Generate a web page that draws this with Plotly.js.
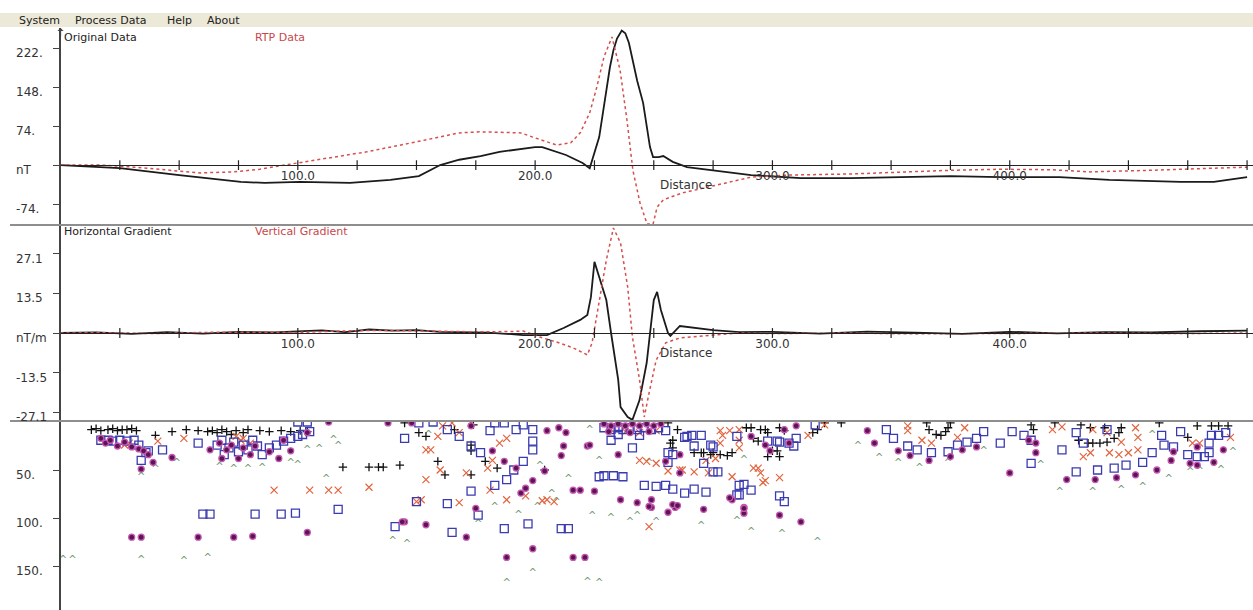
<!DOCTYPE html>
<html>
<head>
<meta charset="utf-8">
<script src="https://cdn.plot.ly/plotly-3.0.1.min.js"></script>
<style>
  html, body { margin: 0; padding: 0; background: #ffffff; overflow: hidden; }
  #chart { width: 1253px; height: 610px; }
</style>
</head>
<body>
<div id="chart"></div>
<script>
// ---------- profile curves (distance along line, m) ----------
const origDist = [0, 25, 50, 76, 86, 101, 122, 139, 151, 156, 160, 168, 177, 185, 194, 200, 203, 213, 220, 223,
  227, 228.5, 230, 231.5, 233, 234.5, 236.5, 238, 239.5, 241, 243, 245.5, 247, 248.4, 249.7, 252, 254, 256, 258,
  264, 275, 291, 312, 333, 354, 375, 396, 421, 442, 459, 472, 486, 494, 500];
const origVal = [0, -6, -19, -32, -34, -32, -34, -28, -21, -10, 0, 10, 17, 25, 30, 34, 34, 19, 4, -6,
  53, 100, 148, 185, 218, 240, 255, 250, 232, 200, 160, 118, 75, 34, 15, 15, 17, 11, 6,
  -4, -10, -19, -25, -25, -23, -21, -23, -23, -28, -30, -32, -32, -27, -23];

const rtpDist = [0, 17, 31, 46, 59, 73, 84, 100, 115, 129, 150, 160, 168, 177, 194, 199, 209, 215, 219, 223,
  226, 229, 232.4, 235.8, 238.7, 241.2, 244.2, 247.2, 249.7, 251.4, 254, 262, 277, 291, 307, 333, 375, 396,
  418, 434, 459, 500];
const rtpVal = [0, 0, -4, -10, -15, -13, -8, 4, 15, 25, 44, 53, 61, 63, 61, 53, 38, 42, 61, 99,
  148, 205, 243, 180, 85, -10, -72, -112, -112, -80, -66, -53, -38, -23, -19, -17, -10, -8,
  -9, -13, -10, -4];

const hgDist = [0, 15, 30, 45, 60, 75, 90, 100, 110, 120, 130, 140, 150, 160, 170, 180, 190, 195, 205, 212,
  219, 222, 223.5, 225, 227, 230, 232, 235, 236, 239, 241, 244, 247, 248.5, 250, 251.4, 253, 256, 257, 261,
  267, 275, 286, 300, 320, 340, 360, 380, 400, 420, 440, 460, 480, 500];
const hgVal = [0, 0.2, -0.3, 0.3, -0.2, 0.4, 0.2, 0.6, 0.9, 0.3, 1.2, 0.8, 1.0, 0.4, 0.3, 0.1, -0.4, -0.7, -0.7, 1.7,
  4.5, 6.2, 12.3, 24.4, 19.2, 11.3, 0, -16, -25.4, -28.8, -29.8, -23, -10.3, 1, 11.3, 14.1, 7.9, 0, -1, 2.4,
  1.7, 1, 0.3, 0.4, -0.2, 0.5, 0.1, -0.3, 0.4, -0.1, 0.3, 0.2, 0.6, 0.8];

const vgDist = [0, 20, 40, 60, 80, 100, 115, 130, 145, 160, 175, 190, 195, 202, 209, 216, 222, 224, 227, 230,
  233, 236, 239, 241, 244, 246, 248, 251, 255, 261, 275, 286, 300, 330, 360, 400, 440, 470, 500];
const vgVal = [0, 0.1, -0.2, 0.2, 0.3, 0.2, 0.6, 0.9, 0.8, 0.6, 0.4, 0.5, 0.7, -1.4, -3.1, -5.1, -7.5, -3.4, 10.3, 25,
  36, 30.9, 15.8, -1.4, -16, -28.8, -20.6, -9.3, -3.4, -1.7, -0.7, 0, -0.2, 0, -0.3, -0.2, 0, -0.2, 0];

// ---------- Euler solutions (distance m, depth m) ----------
const plusX = [13, 15, 17, 20, 22, 24, 26, 28, 30, 32, 40, 47, 53, 58, 62, 64, 66, 68, 70, 72, 74, 77, 79,
  84, 88, 93, 97, 101, 104, 119, 130, 134, 136, 143, 145, 151, 154, 159, 162, 173, 173, 173, 179, 184, 204, 166, 174,
  256, 260, 258, 257, 271, 274, 278, 281, 291, 295, 298, 303, 305, 292, 294, 300, 302, 317, 319, 322, 329,
  283, 275, 303, 298, 258, 267, 270, 289, 297,
  365, 366, 369, 371, 373, 374, 375, 409, 410, 419, 430, 429, 433, 435, 438, 441, 444, 446, 447, 440, 434,
  463, 479, 485, 488, 492, 475];
const plusD = [8, 7, 9, 8, 7, 9, 8, 8, 7, 9, 14, 10, 8, 9, 10, 9, 11, 8, 10, 13, 9, 11, 8,
  9, 10, 9, 10, 9, 10, 47, 47, 47, 47, 45, 1, 11, 15, 41, 55, 30, 24, 55, 41, 48, 50, 8, 3,
  1, 8, 27, 22, 32, 34, 34, 35, 6, 8, 11, 6, 9, 17, 20, 30, 30, 11, 8, 1, 1,
  32, 32, 36, 36, 19, 32, 32, 6, 8,
  1, 8, 13, 14, 10, 6, 1, 3, 8, 1, 3, 19, 22, 22, 22, 21, 17, 11, 6, 6, 6,
  1, 4, 4, 4, 4, 16];

const crossX = [41, 52, 77, 80, 76, 74, 27, 29, 90, 105, 113, 117, 130, 154, 156, 160, 171, 168, 180, 182, 185, 188,
  152, 168, 159, 161, 165, 173, 203, 244, 247, 154, 150, 181, 188, 196, 205, 208,
  261, 267, 273, 283, 303, 295, 296, 292, 279, 278, 286, 315, 248, 278, 282, 286, 286, 294, 297, 276, 272, 262, 256, 251,
  232, 238, 244, 251,
  322, 357, 357, 363, 367, 378, 381, 418, 422, 435, 441, 447, 454, 453, 431, 434, 442, 446, 450, 454, 477, 480, 493];
const crossD = [20, 17, 17, 22, 19, 15, 24, 22, 71, 71, 71, 71, 68, 60, 29, 50, 53, 11, 48, 40, 22, 17,
  81, 84, 15, 4, 1, 1, 82, 40, 41, 29, 83, 71, 81, 77, 81, 83,
  50, 52, 53, 57, 58, 53, 63, 48, 14, 22, 8, 14, 109, 9, 9, 19, 27, 48, 61, 38, 40, 50, 51, 43,
  8, 10, 11, 9,
  3, 4, 9, 19, 22, 16, 6, 8, 5, 8, 11, 21, 16, 6, 36, 32, 32, 34, 32, 29, 22, 22, 16];

const sqX = [17, 20, 22, 25, 28, 31, 33, 37, 43, 34, 36, 58,
  66, 68, 71, 73, 75, 77, 79, 69, 81, 83,
  85, 88, 91, 94, 97, 100, 102, 105, 100, 104,
  60, 63, 82, 93, 99, 117, 141, 150, 145,
  151, 157, 163, 168, 173, 177, 181, 183, 187, 192, 199, 199, 199, 195, 191, 188, 183, 173, 163, 176, 195,
  232, 241, 229, 233, 237, 246, 251, 165, 187, 197, 211, 214, 227,
  255, 258, 263, 267, 272, 285, 291, 288, 303, 305, 271, 275, 318, 310, 307, 303, 275, 270, 266, 263, 267, 256, 256,
  286, 286, 264, 274, 277, 285, 298, 302, 309, 348, 351, 357, 361, 367, 258,
  374, 378, 382, 386, 389, 396, 401, 406, 409, 409, 422, 428, 431, 441, 428, 437, 444, 449, 456, 460, 464, 465, 469,
  472, 475, 479, 482, 484, 485, 488, 491, 484,
  229, 232, 235, 237, 240, 243, 246, 249, 252, 255, 235, 244];
const sqD = [19, 19, 20, 19, 20, 19, 24, 30, 29, 40, 32, 22,
  24, 19, 27, 21, 31, 24, 29, 34, 19, 25,
  34, 27, 24, 20, 17, 15, 13, 10, 0, 0,
  96, 96, 96, 96, 95, 91, 109, 83, 17,
  1, 0, 8, 15, 25, 32, 9, 1, 1, 8, 8, 20, 29, 41, 50, 60, 66, 72, 85, 97, 3,
  19, 27, 56, 56, 57, 66, 67, 115, 111, 106, 111, 111, 57,
  66, 70, 74, 70, 73, 76, 71, 65, 77, 83, 43, 52, 3, 17, 22, 21, 26, 14, 14, 16, 25, 32, 42,
  66, 76, 15, 24, 52, 15, 20, 20, 25, 8, 17, 25, 29, 32, 34,
  31, 24, 21, 17, 10, 22, 10, 14, 19, 43, 29, 11, 22, 8, 52, 50, 48, 45, 42, 32, 14, 24, 26,
  10, 34, 36, 36, 32, 14, 14, 11, 22,
  6, 8, 6, 8, 6, 8, 6, 8, 6, 9, 13, 14];

const dotX = [17, 19, 21, 24, 27, 30, 33, 35, 37, 34, 39, 47, 63, 30, 34, 58, 73, 81, 104, 145, 113, 138,
  67, 70, 72, 75, 77, 80, 82, 68, 92, 97, 104, 88, 94,
  148, 173, 182, 187, 192, 199, 196, 194, 205, 210, 213, 211, 204, 212, 222, 216, 219, 225, 235, 236, 243, 249, 175,
  144, 154, 171, 188, 199, 216, 221, 249, 256, 259, 271, 288, 288, 303, 312, 283, 261, 223,
  248, 258, 260, 282, 288, 255, 261, 291, 297, 299, 307, 305, 310, 340, 343, 353, 358, 366,
  375, 380, 386, 400, 408, 411, 411, 424, 436, 445, 453, 462, 468, 469, 476, 479, 486, 490, 479,
  229, 232, 235, 238, 241, 244, 247, 250, 253, 231, 240, 248];
const dotD = [17, 22, 19, 25, 21, 26, 28, 30, 34, 49, 42, 37, 29, 120, 120, 120, 120, 119, 115, 104, 0, 1,
  22, 29, 24, 38, 27, 34, 25, 38, 38, 30, 11, 31, 19,
  1, 4, 30, 41, 48, 61, 69, 74, 9, 6, 11, 35, 51, 25, 25, 71, 71, 72, 34, 81, 84, 81, 90,
  104, 107, 120, 141, 132, 141, 141, 89, 94, 89, 91, 89, 95, 97, 104, 81, 53, 24,
  88, 86, 87, 79, 90, 41, 34, 15, 24, 30, 22, 8, 4, 9, 22, 30, 35, 40,
  36, 29, 26, 53, 19, 22, 32, 60, 60, 58, 55, 50, 40, 31, 43, 45, 42, 29, 26,
  2, 4, 2, 4, 2, 4, 2, 4, 2, 10, 11, 10];

const caretX = [1, 5, 34, 52, 62, 34, 40, 49, 67, 73, 79, 85, 97, 100, 104, 109, 115, 117, 112, 124, 140, 146,
  148, 155, 214, 227, 223, 207, 209, 202, 248,
  176, 193, 201, 224, 232, 240, 243, 251, 270, 285, 291, 304, 319, 188, 199, 222, 227, 183,
  336, 345, 353, 362, 288, 374, 389, 413, 421, 435, 447, 456, 467, 476, 480, 489, 494, 460];
const caretD = [144, 144, 144, 145, 142, 58, 49, 43, 47, 49, 49, 48, 43, 45, 30, 29, 19, 26, 60, 0, 124, 128,
  4, 14, 60, 41, 9, 76, 84, 46, 43,
  107, 97, 89, 98, 100, 105, 98, 105, 109, 104, 115, 117, 125, 168, 158, 167, 168, 89,
  25, 38, 43, 48, 40, 43, 31, 45, 73, 73, 71, 68, 60, 53, 52, 50, 32, 14];

// ---------- axis ticks and labels ----------
const distTicks = [25, 50, 75, 100, 125, 150, 175, 200, 225, 250, 275, 300, 325, 350, 375, 400, 425, 450, 475, 500];
const distLabelVals = [100, 200, 300, 400, 500];
const distLabelText = ['100.0', '200.0', '300.0', '400.0', '500.0'];
const fieldTickVals = [222, 148, 74, 0, -74];
const fieldTickText = ['222.', '148.', '74.', 'nT', '-74.'];
const gradTickVals = [27.1, 13.55, 0, -13.55, -27.1];
const gradTickText = ['27.1', '13.5', 'nT/m', '-13.5', '-27.1'];
const depthTickVals = [50, 100, 150];
const depthTickText = ['50.', '100.', '150.'];
const menuItems = ['System', 'Process Data', 'Help', 'About'];
const menuLeft = [17, 73, 165, 205];

// ---------- page geometry (pixels -> paper fractions) ----------
const W = 1253, H = 610;
const fx = p => p / W;
const fy = p => 1 - p / H;
const FONT = 'DejaVu Sans, Verdana, sans-serif';

const blackLine = { color: '#1b1b1b', width: 1.8 };
const redDash = { color: '#d4504c', width: 1.5, dash: '3px,3px' };
const tickMark = { symbol: 'line-ns-open', size: 7, color: '#222', line: { color: '#222', width: 1.2 } };

const traces = [
  { x: origDist, y: origVal, xaxis: 'x', yaxis: 'y', mode: 'lines', line: blackLine, hoverinfo: 'skip' },
  { x: rtpDist, y: rtpVal, xaxis: 'x', yaxis: 'y', mode: 'lines', line: redDash, hoverinfo: 'skip' },
  { x: hgDist, y: hgVal, xaxis: 'x2', yaxis: 'y2', mode: 'lines', line: blackLine, hoverinfo: 'skip' },
  { x: vgDist, y: vgVal, xaxis: 'x2', yaxis: 'y2', mode: 'lines', line: redDash, hoverinfo: 'skip' },
  // distance tick marks crossing the zero lines
  { x: distTicks, y: distTicks.map(() => 0), xaxis: 'x', yaxis: 'y', mode: 'markers', marker: tickMark, hoverinfo: 'skip' },
  { x: distTicks, y: distTicks.map(() => 0), xaxis: 'x2', yaxis: 'y2', mode: 'markers', marker: tickMark, hoverinfo: 'skip' },
  // Euler solutions
  { x: caretX, y: caretD, xaxis: 'x3', yaxis: 'y3', mode: 'text', text: caretX.map(() => '^'),
    textfont: { family: FONT, size: 10, color: '#6f9a6f' }, hoverinfo: 'skip' },
  { x: plusX, y: plusD, xaxis: 'x3', yaxis: 'y3', mode: 'markers',
    marker: { symbol: 'cross-thin-open', size: 6, color: '#111', line: { color: '#111', width: 1.3 } }, hoverinfo: 'skip' },
  { x: crossX, y: crossD, xaxis: 'x3', yaxis: 'y3', mode: 'markers',
    marker: { symbol: 'x-thin-open', size: 7, color: '#e2643f', line: { color: '#e2643f', width: 1.2 } }, hoverinfo: 'skip' },
  { x: sqX, y: sqD, xaxis: 'x3', yaxis: 'y3', mode: 'markers',
    marker: { symbol: 'square-open', size: 8, color: '#3b3bb0', line: { color: '#3b3bb0', width: 1.3 } }, hoverinfo: 'skip' },
  { x: dotX, y: dotD, xaxis: 'x3', yaxis: 'y3', mode: 'markers',
    marker: { symbol: 'circle', size: 6, color: '#5a1552', line: { color: '#c657b2', width: 1.3 } }, hoverinfo: 'skip' }
];

const xDomain = [fx(60.5), 1];
const xRange = [0, 502.5];
const baseX = { domain: xDomain, range: xRange, showgrid: false, zeroline: false, fixedrange: true };
const baseY = {
  anchor: 'x', showgrid: false, zeroline: false, showline: true, linecolor: '#444', linewidth: 1.5,
  ticks: 'outside', ticklen: 6, tickcolor: '#444', showticklabels: false, fixedrange: true
};
const distAxis = {
  anchor: 'free', showline: true, linecolor: '#222', linewidth: 1,
  ticks: '', tickvals: distLabelVals, ticktext: distLabelText,
  tickfont: { family: FONT, size: 12, color: '#333' }
};

const layout = {
  width: W, height: H,
  margin: { l: 0, r: 0, t: 0, b: 0 },
  paper_bgcolor: '#ffffff', plot_bgcolor: 'rgba(0,0,0,0)',
  showlegend: false,
  font: { family: FONT, size: 11, color: '#222' },
  xaxis: Object.assign({}, baseX, distAxis, { position: fy(165) }),
  xaxis2: Object.assign({}, baseX, distAxis, { position: fy(333) }),
  xaxis3: Object.assign({}, baseX, { anchor: 'y3', showline: false, showticklabels: false, ticks: '' }),
  yaxis: Object.assign({}, baseY, { domain: [fy(225), fy(28)], range: [-113.8, 260], tickvals: fieldTickVals }),
  yaxis2: Object.assign({}, baseY, { anchor: 'x2', domain: [fy(421), fy(225)], range: [-30.18, 37.04], tickvals: gradTickVals }),
  yaxis3: Object.assign({}, baseY, { anchor: 'x3', domain: [0, fy(421)], range: [195.8, -1.04], tickvals: depthTickVals }),
  shapes: [
    { type: 'rect', xref: 'paper', yref: 'paper', x0: 0, x1: 1, y0: fy(27), y1: fy(13),
      fillcolor: '#ece9d8', line: { width: 0 }, layer: 'below' },
    { type: 'line', xref: 'paper', yref: 'paper', x0: fx(10), x1: 1, y0: fy(225), y1: fy(225),
      line: { color: '#8e8e8e', width: 2 } },
    { type: 'line', xref: 'paper', yref: 'paper', x0: fx(10), x1: 1, y0: fy(421), y1: fy(421),
      line: { color: '#8e8e8e', width: 2 } }
  ],
  annotations: []
};

const ann = layout.annotations;
function label(text, x, y, color, size) {
  ann.push({ text: text, x: x, y: y, xref: 'paper', yref: 'paper', xanchor: 'left', yanchor: 'middle',
    showarrow: false, font: { family: FONT, size: size, color: color } });
}

menuItems.forEach((m, i) => label(m, fx(menuLeft[i]), fy(20), '#222', 11));
label('Original Data', fx(62), fy(37), '#222', 11);
label('RTP Data', fx(253), fy(37), '#c8474b', 11);
label('Horizontal Gradient', fx(62), fy(232), '#222', 11);
label('Vertical Gradient', fx(253), fy(232), '#c8474b', 11);

function tickLabels(vals, texts, yref) {
  vals.forEach((v, i) => ann.push({ text: texts[i], x: fx(14), y: v, xref: 'paper', yref: yref,
    xanchor: 'left', yanchor: 'middle', yshift: -5, showarrow: false,
    font: { family: FONT, size: 12, color: '#333' } }));
}
tickLabels(fieldTickVals, fieldTickText, 'y');
tickLabels(gradTickVals, gradTickText, 'y2');
tickLabels(depthTickVals, depthTickText, 'y3');

// axis-name labels along the profile
ann.push({ text: 'Distance', x: 263.5, y: -38, xref: 'x', yref: 'y', showarrow: false,
  font: { family: FONT, size: 12, color: '#333' } });
ann.push({ text: 'Distance', x: 263.5, y: -6.9, xref: 'x2', yref: 'y2', showarrow: false,
  font: { family: FONT, size: 12, color: '#333' } });

// arrow tip on top of the vertical axis
ann.push({ text: '', x: 0, y: 260, xref: 'x', yref: 'y', showarrow: true, ax: 0, ay: 10,
  arrowhead: 1, arrowsize: 0.8, arrowwidth: 1.3, arrowcolor: '#444' });

Plotly.newPlot('chart', traces, layout, { displayModeBar: false, staticPlot: true });
</script>
</body>
</html>
